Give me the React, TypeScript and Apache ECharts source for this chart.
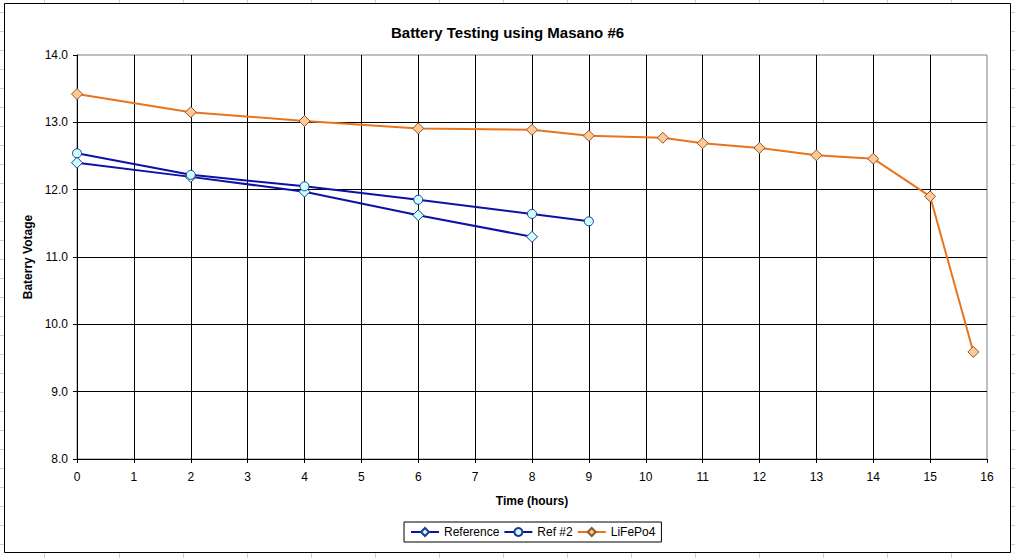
import React, { useEffect, useRef } from "react";
import * as echarts from "echarts";

const TITLE = "Battery Testing using Masano #6";
const X_NAME = "Time (hours)";
const Y_NAME = "Baterry Votage";
const SERIES_NAMES = ["Reference", "Ref #2", "LiFePo4"];

const refX = [0, 2, 4, 6, 8];
const refY = [12.4, 12.19, 11.97, 11.62, 11.3];

const ref2X = [0, 2, 4, 6, 8, 9];
const ref2Y = [12.54, 12.22, 12.05, 11.85, 11.64, 11.53];

const lifeX = [0, 2, 4, 6, 8, 9, 10.3, 11, 12, 13, 14, 15, 15.76];
const lifeY = [13.42, 13.15, 13.02, 12.91, 12.89, 12.8, 12.77, 12.69, 12.62, 12.51, 12.46, 11.9, 9.59];

const X_MIN = 0;
const X_MAX = 16;
const Y_MIN = 8;
const Y_MAX = 14;

const FONT = "'Liberation Sans', Arial, sans-serif";

function pairs(xs: number[], ys: number[]) {
  return xs.map((x, i) => [x, ys[i]]);
}

function sheetLines() {
  const els: any[] = [];
  const stroke = "#d0d0d0";
  const cols = [44, 119, 183, 247, 311, 375, 439, 503, 567, 631, 695, 759, 823, 887, 951];
  cols.forEach((x) => {
    els.push({ type: "line", shape: { x1: x + 0.5, y1: 0, x2: x + 0.5, y2: 3 }, style: { stroke, lineWidth: 1 }, silent: true });
    els.push({ type: "line", shape: { x1: x + 0.5, y1: 553, x2: x + 0.5, y2: 558 }, style: { stroke, lineWidth: 1 }, silent: true });
  });
  for (let k = 0; k <= 28; k++) {
    const y = 12 + 19 * k + 0.5;
    els.push({ type: "line", shape: { x1: 0, y1: y, x2: 4, y2: y }, style: { stroke, lineWidth: 1 }, silent: true });
    els.push({ type: "line", shape: { x1: 1011, y1: y, x2: 1015, y2: y }, style: { stroke, lineWidth: 1 }, silent: true });
  }
  els.push({
    type: "rect",
    shape: { x: 4.5, y: 3.5, width: 1006, height: 549 },
    style: { fill: "none", stroke: "#000", lineWidth: 1 },
    silent: true,
    z: 10,
  });
  return els;
}

export default function App() {
  const ref = useRef<HTMLDivElement>(null);

  useEffect(() => {
    if (!ref.current) return;
    const chart = echarts.init(ref.current, undefined, { renderer: "svg" });
    const blue = "#0a12a8";
    const orange = "#e8741e";
    chart.setOption({
      animation: false,
      backgroundColor: "#fff",
      textStyle: { fontFamily: FONT },
      title: {
        text: TITLE,
        left: "center",
        top: 25,
        padding: 0,
        textStyle: { fontFamily: FONT, fontSize: 15, fontWeight: "bold", color: "#000" },
      },
      legend: {
        data: SERIES_NAMES,
        left: 404,
        top: 522,
        orient: "horizontal",
        padding: [4, 6, 4, 6],
        itemGap: 4,
        itemWidth: 28,
        itemHeight: 10,
        borderColor: "#000",
        borderWidth: 1,
        backgroundColor: "#fff",
        textStyle: { fontFamily: FONT, fontSize: 12, color: "#000" },
      },
      grid: {
        left: 77,
        top: 55,
        right: 28,
        bottom: 99,
        show: true,
        borderColor: "#808080",
        borderWidth: 1,
        backgroundColor: "#fff",
      },
      xAxis: {
        type: "value",
        min: X_MIN,
        max: X_MAX,
        interval: 1,
        name: X_NAME,
        nameLocation: "middle",
        nameGap: 36,
        nameTextStyle: { fontFamily: FONT, fontSize: 12, fontWeight: "bold", color: "#000" },
        axisLine: { show: true, onZero: false, lineStyle: { color: "#000", width: 1 } },
        axisTick: { show: true, length: 4, lineStyle: { color: "#000" } },
        axisLabel: { fontFamily: FONT, fontSize: 12, color: "#000", margin: 12 },
        splitLine: { show: true, showMinLine: false, showMaxLine: false, lineStyle: { color: "#000", width: 1 } },
      },
      yAxis: {
        type: "value",
        min: Y_MIN,
        max: Y_MAX,
        interval: 1,
        name: Y_NAME,
        nameLocation: "middle",
        nameGap: 42,
        nameRotate: 90,
        nameTextStyle: { fontFamily: FONT, fontSize: 12, fontWeight: "bold", color: "#000" },
        axisLine: { show: true, onZero: false, lineStyle: { color: "#000", width: 1 } },
        axisTick: { show: true, length: 4, lineStyle: { color: "#000" } },
        axisLabel: {
          fontFamily: FONT,
          fontSize: 12,
          color: "#000",
          margin: 9,
          formatter: (v: number) => v.toFixed(1),
        },
        splitLine: { show: true, showMinLine: false, showMaxLine: false, lineStyle: { color: "#000", width: 1 } },
      },
      graphic: { elements: sheetLines() },
      series: [
        {
          name: SERIES_NAMES[0],
          type: "line",
          data: pairs(refX, refY),
          symbol: "diamond",
          symbolSize: 11,
          showAllSymbol: true,
          lineStyle: { color: blue, width: 2 },
          itemStyle: { color: "#ccffff", borderColor: "#1e3a8c", borderWidth: 1 },
          z: 3,
        },
        {
          name: SERIES_NAMES[1],
          type: "line",
          data: pairs(ref2X, ref2Y),
          symbol: "circle",
          symbolSize: 9,
          showAllSymbol: true,
          lineStyle: { color: blue, width: 2 },
          itemStyle: { color: "#ccffff", borderColor: "#1e3a8c", borderWidth: 1 },
          z: 3,
        },
        {
          name: SERIES_NAMES[2],
          type: "line",
          data: pairs(lifeX, lifeY),
          symbol: "diamond",
          symbolSize: 11,
          showAllSymbol: true,
          lineStyle: { color: orange, width: 2 },
          itemStyle: { color: "#ffc896", borderColor: "#8c5a28", borderWidth: 1 },
          z: 3,
        },
      ],
    });
    return () => chart.dispose();
  }, []);

  return (
    <div
      ref={ref}
      style={{ position: "absolute", left: 0, top: 0, width: 1015, height: 558 }}
    />
  );
}
